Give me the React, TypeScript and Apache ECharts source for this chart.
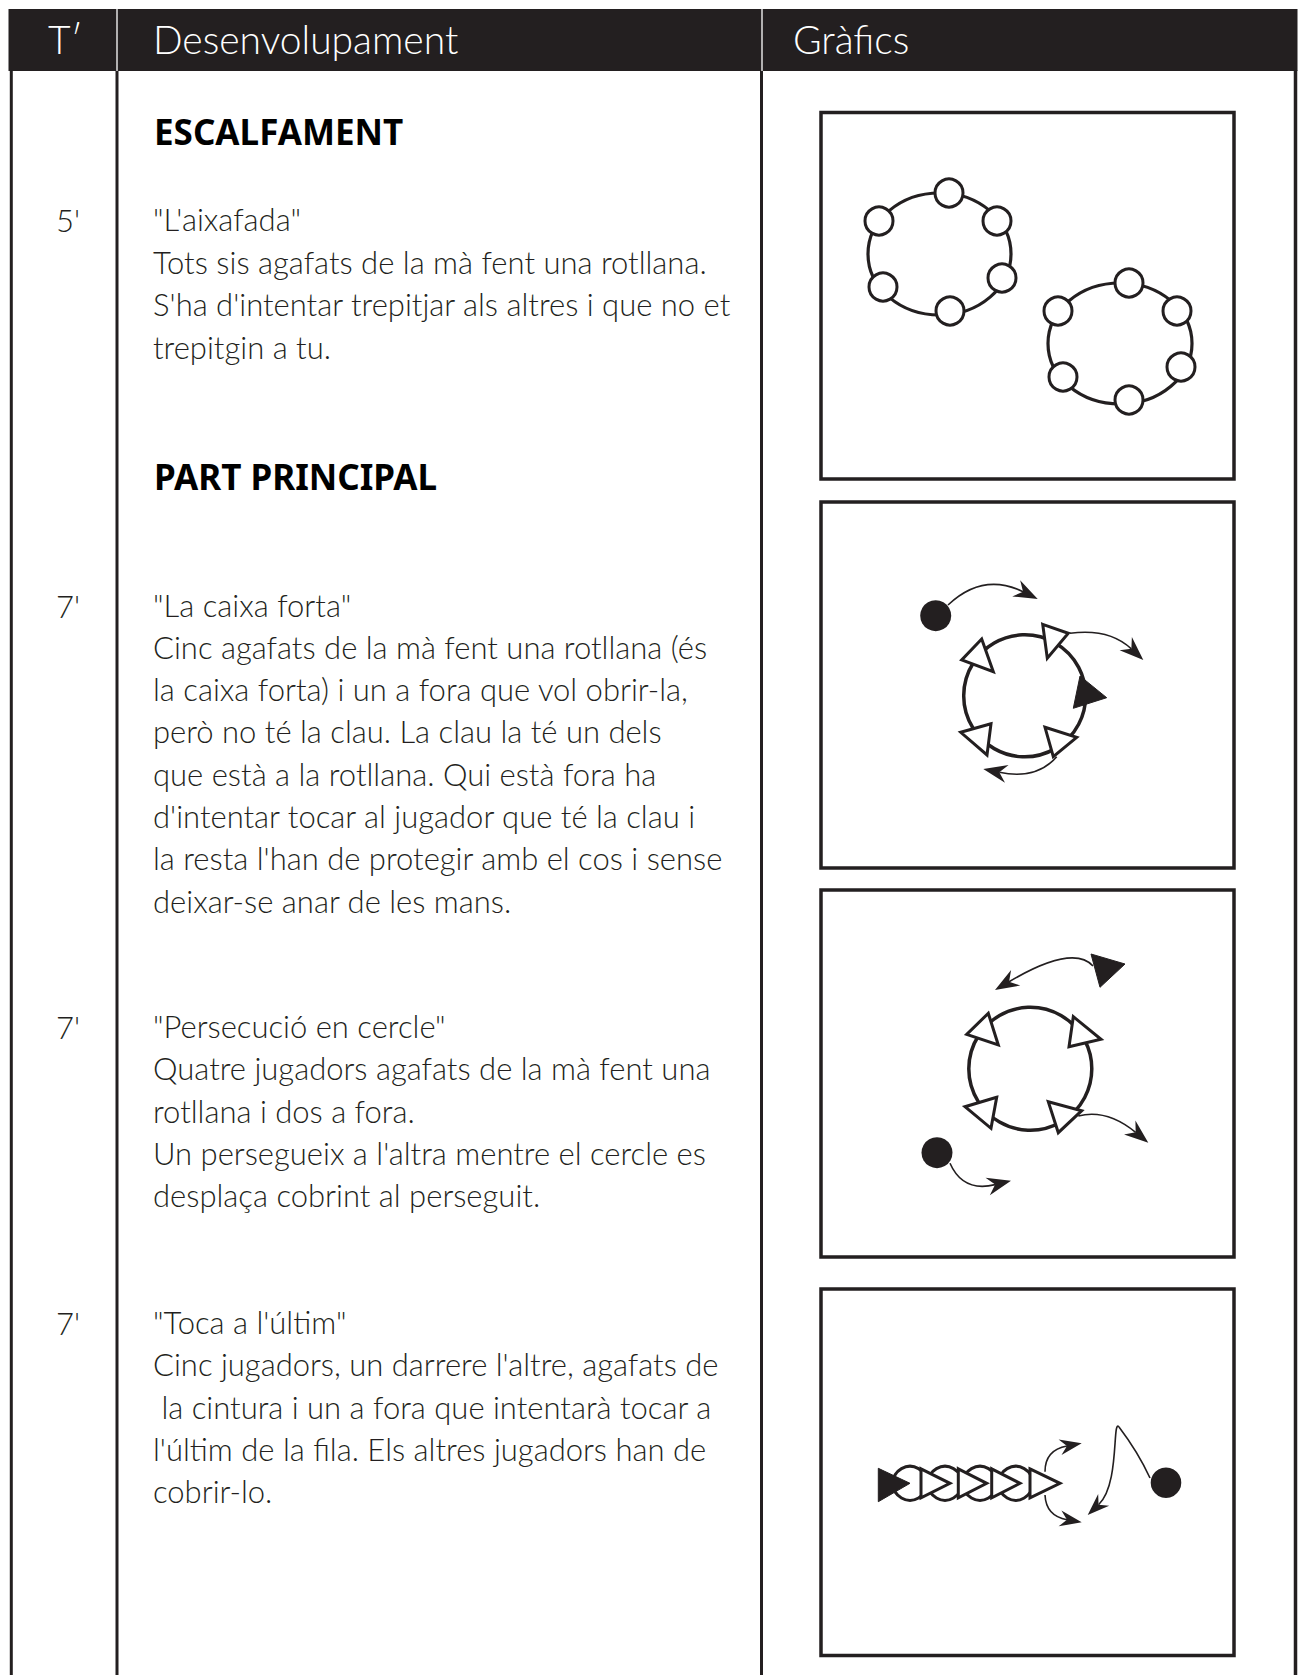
import React, { useEffect, useRef } from "react";
import * as echarts from "echarts";

// ---- content ----
const HEADER_LABELS = ["T\u2032", "Desenvolupament", "Gr\u00e0fics"];
const SECTION_HEADINGS = ["ESCALFAMENT", "PART PRINCIPAL"];
const TIMES = ["5'", "7'", "7'", "7'"];
const BLOCK1 = [
  "\"L'aixafada\"",
  "Tots sis agafats de la m\u00e0 fent una rotllana.",
  "S'ha d'intentar trepitjar als altres i que no et",
  "trepitgin a tu.",
];
const BLOCK2 = [
  "\"La caixa forta\"",
  "Cinc agafats de la m\u00e0 fent una rotllana (\u00e9s",
  "la caixa forta) i un a fora que vol obrir-la,",
  "per\u00f2 no t\u00e9 la clau. La clau la t\u00e9 un dels",
  "que est\u00e0 a la rotllana. Qui est\u00e0 fora ha",
  "d'intentar tocar al jugador que t\u00e9 la clau i",
  "la resta l'han de protegir amb el cos i sense",
  "deixar-se anar de les mans.",
];
const BLOCK3 = [
  "\"Persecuci\u00f3 en cercle\"",
  "Quatre jugadors agafats de la m\u00e0 fent una",
  "rotllana i dos a fora.",
  "Un persegueix a l'altra mentre el cercle es",
  "despla\u00e7a cobrint al perseguit.",
];
const BLOCK4 = [
  "\"Toca a l'\u00faltim\"",
  "Cinc jugadors, un darrere l'altre, agafats de",
  " la cintura i un a fora que intentar\u00e0 tocar a",
  "l'\u00faltim de la fila. Els altres jugadors han de",
  "cobrir-lo.",
];

// ---- diagram shapes ----
const RINGS_1 = [
  { c: [939.5, 254], r: [71.5, 61], players: [[949, 193], [879, 221], [997, 221], [1002, 278], [883, 287], [950, 311]] },
  { c: [1120, 343.5], r: [72, 60.5], players: [[1129, 283], [1058, 311], [1177, 311], [1181, 367], [1063, 377], [1129, 400]] },
];
const D2_CIRCLE = { c: [1024.7, 695.8], r: 61 };
const D2_OPEN_TRI = [
  [[1042.7, 624.3], [1068.3, 633.3], [1047.3, 658.3]],
  [[981.7, 639], [961.7, 660], [993.3, 671.7]],
  [[991, 723.7], [960.7, 732.3], [987, 755]],
  [[1045, 727.3], [1076.7, 737.3], [1053.3, 756.7]],
];
const D2_FILLED_TRI = [[1080, 676], [1106.7, 697.7], [1073.3, 708.3]];
const D2_DOT = { c: [935.7, 615.7], r: 15.5 };
const D2_ARROWS = [
  { p0: [948, 605], cp: [983, 572], tip: [1037.7, 599] },
  { p0: [1070, 633.3], cp: [1109, 628], tip: [1143.3, 660] },
  { p0: [1056.7, 756.7], cp: [1036.6, 780], tip: [983.3, 769] },
];

const D3_CIRCLE = { c: [1030.3, 1068.8], r: 61.5 };
const D3_OPEN_TRI = [
  [[988.3, 1013.3], [966.7, 1034.3], [998.3, 1045]],
  [[1073.3, 1016.7], [1101, 1039.3], [1069, 1046.7]],
  [[996.7, 1097.3], [965, 1106.7], [991, 1128.3]],
  [[1048.3, 1101.7], [1081.7, 1110.7], [1058.3, 1132.7]],
];
const D3_FILLED_TRI = [[1091, 954], [1125, 964], [1100, 987.3]];
const D3_DOT = { c: [937, 1152.7], r: 15.5 };
const D3_ARROWS = [
  { p0: [1093, 966], cp: [1073, 944], tip: [995, 990] },
  { p0: [1078.3, 1116], cp: [1106.7, 1108.7], tip: [1148.3, 1142.7] },
  { p0: [950, 1163.3], cp: [962.9, 1192.6], tip: [1011, 1180.7] },
];

const D4_FILLED_TRI = [[878.3, 1468.3], [910, 1483.3], [878.3, 1501.7]];
const D4_CIRCLES_X = [910, 945, 980, 1015.7];
const D4_TRI_LEFT_X = [921, 958.3, 991.7, 1030];
const D4_TRI_TIP_X = [950, 986.7, 1020, 1060];
const D4_ROW_Y = 1483.3;
const D4_DOT = { c: [1166, 1482.7], r: 15.3 };
const D4_ARROWS = [
  { p0: [1045, 1471.7], cp: [1045, 1450], tip: [1081.7, 1443.3] },
  { p0: [1045, 1495], cp: [1046, 1516], tip: [1081.7, 1522.3] },
];

const INK = "#231f20";
const BODY_FONT = "Lato, 'Open Sans', sans-serif";
const BODY_SIZE = 31;

function head(tip: number[], from: number[], L = 24, W = 9) {
  const dx = tip[0] - from[0];
  const dy = tip[1] - from[1];
  const n = Math.hypot(dx, dy) || 1;
  const ux = dx / n, uy = dy / n;
  const px = -uy, py = ux;
  const notch = [tip[0] - ux * L * 0.68, tip[1] - uy * L * 0.68];
  return {
    notch,
    el: {
      type: "polygon",
      shape: {
        points: [
          tip,
          [tip[0] - ux * L + px * W, tip[1] - uy * L + py * W],
          notch,
          [tip[0] - ux * L - px * W, tip[1] - uy * L - py * W],
        ],
      },
      style: { fill: INK },
    },
  };
}

function curveArrow(a: { p0: number[]; cp: number[]; tip: number[] }, L = 24, W = 9) {
  const h = head(a.tip, a.cp, L, W);
  return [
    {
      type: "bezierCurve",
      shape: { x1: a.p0[0], y1: a.p0[1], cpx1: a.cp[0], cpy1: a.cp[1], x2: h.notch[0], y2: h.notch[1] },
      style: { stroke: INK, lineWidth: 1.6, fill: null },
    },
    h.el,
  ];
}

function openTri(pts: number[][]) {
  return { type: "polygon", shape: { points: pts }, style: { fill: "#fff", stroke: INK, lineWidth: 3, lineJoin: "miter" } };
}
function filledTri(pts: number[][]) {
  return { type: "polygon", shape: { points: pts }, style: { fill: INK, stroke: INK, lineWidth: 1 } };
}
function dot(d: { c: number[]; r: number }) {
  return { type: "circle", shape: { cx: d.c[0], cy: d.c[1], r: d.r }, style: { fill: INK } };
}
function box(y1: number, y2: number) {
  return { type: "rect", shape: { x: 821, y: y1, width: 413, height: y2 - y1 }, style: { fill: "#fff", stroke: INK, lineWidth: 3.5 } };
}

function textLines(lines: string[], x: number, y0: number, step: number) {
  return lines.map((t, i) => ({
    type: "text",
    style: {
      text: t,
      x,
      y: y0 + i * step,
      fill: INK,
      fontFamily: BODY_FONT,
      fontWeight: 300,
      fontSize: BODY_SIZE,
      verticalAlign: "middle",
      textVerticalAlign: "middle",
    },
  }));
}

export default function App() {
  const ref = useRef<HTMLDivElement>(null);
  useEffect(() => {
    if (!ref.current) return;
    const chart = echarts.init(ref.current, null, { renderer: "svg" });
    const g: any[] = [];

    // page frame
    g.push({ type: "rect", shape: { x: 0, y: 0, width: 1303, height: 1675 }, style: { fill: "#fff" } });
    const vx = [11.3, 117, 761.5, 1295.5];
    const vw = [3, 3, 3, 3.5];
    vx.forEach((x, i) =>
      g.push({ type: "line", shape: { x1: x, y1: 70, x2: x, y2: 1675 }, style: { stroke: INK, lineWidth: vw[i] } })
    );
    // header
    g.push({ type: "rect", shape: { x: 8.5, y: 9, width: 1289, height: 62 }, style: { fill: INK } });
    [117, 762].forEach((x) =>
      g.push({ type: "line", shape: { x1: x, y1: 9, x2: x, y2: 71 }, style: { stroke: "#fff", lineWidth: 1.3 } })
    );
    const hx = [48, 153, 793];
    HEADER_LABELS.forEach((t, i) =>
      g.push({
        type: "text",
        style: { text: t, x: hx[i], y: 39, fill: "#fff", fontFamily: BODY_FONT, fontWeight: 300, fontSize: 39, verticalAlign: "middle", textVerticalAlign: "middle" },
      })
    );

    // section headings
    const hy = [131, 476];
    SECTION_HEADINGS.forEach((t, i) =>
      g.push({
        type: "text",
        style: { text: t, x: 154, y: hy[i], fill: "#000", fontFamily: "'Noto Sans', 'Open Sans', sans-serif", fontWeight: "bold", fontSize: 35, verticalAlign: "middle", textVerticalAlign: "middle" },
      })
    );

    // times
    const ty = [220, 605.5, 1027, 1323];
    TIMES.forEach((t, i) =>
      g.push({
        type: "text",
        style: { text: t, x: 56, y: ty[i], fill: INK, fontFamily: BODY_FONT, fontWeight: 300, fontSize: BODY_SIZE, verticalAlign: "middle", textVerticalAlign: "middle" },
      })
    );

    g.push(...textLines(BLOCK1, 153, 219, 42.7));
    g.push(...textLines(BLOCK2, 153, 604.5, 42.3));
    g.push(...textLines(BLOCK3, 153, 1026, 42.3));
    g.push(...textLines(BLOCK4, 153, 1322, 42.3));

    // boxes
    g.push(box(112.5, 479), box(502, 868), box(890, 1257), box(1289, 1655.5));

    // diagram 1
    RINGS_1.forEach((ring) => {
      g.push({ type: "ellipse", shape: { cx: ring.c[0], cy: ring.c[1], rx: ring.r[0], ry: ring.r[1] }, style: { fill: null, stroke: INK, lineWidth: 3.2 } });
      ring.players.forEach((p) =>
        g.push({ type: "circle", shape: { cx: p[0], cy: p[1], r: 14 }, style: { fill: "#fff", stroke: INK, lineWidth: 3 } })
      );
    });

    // diagram 2
    g.push({ type: "circle", shape: { cx: D2_CIRCLE.c[0], cy: D2_CIRCLE.c[1], r: D2_CIRCLE.r }, style: { fill: null, stroke: INK, lineWidth: 3.5 } });
    D2_OPEN_TRI.forEach((t) => g.push(openTri(t)));
    g.push(filledTri(D2_FILLED_TRI));
    g.push(dot(D2_DOT));
    D2_ARROWS.forEach((a) => g.push(...curveArrow(a)));

    // diagram 3
    g.push({ type: "circle", shape: { cx: D3_CIRCLE.c[0], cy: D3_CIRCLE.c[1], r: D3_CIRCLE.r }, style: { fill: null, stroke: INK, lineWidth: 3.5 } });
    D3_OPEN_TRI.forEach((t) => g.push(openTri(t)));
    g.push(filledTri(D3_FILLED_TRI));
    g.push(dot(D3_DOT));
    D3_ARROWS.forEach((a) => g.push(...curveArrow(a)));

    // diagram 4
    D4_CIRCLES_X.forEach((x) =>
      g.push({ type: "circle", shape: { cx: x, cy: D4_ROW_Y, r: 17 }, style: { fill: null, stroke: INK, lineWidth: 3 } })
    );
    D4_TRI_LEFT_X.forEach((x, i) =>
      g.push(openTri([[x, D4_ROW_Y - 14.5], [D4_TRI_TIP_X[i], D4_ROW_Y], [x, D4_ROW_Y + 14.5]]))
    );
    g.push(filledTri(D4_FILLED_TRI));
    g.push(dot(D4_DOT));
    D4_ARROWS.forEach((a) => g.push(...curveArrow(a, 22, 8)));
    // chaser's winding path
    g.push({
      type: "bezierCurve",
      shape: { x1: 1150, y1: 1478, cpx1: 1138, cpy1: 1452, x2: 1119, y2: 1427 },
      style: { stroke: INK, lineWidth: 1.6, fill: null },
    });
    const h4 = head([1087.7, 1515], [1112, 1492], 22, 8);
    g.push({
      type: "bezierCurve",
      shape: { x1: 1119, y1: 1427, cpx1: 1112, cpy1: 1418, cpx2: 1120, cpy2: 1485, x2: h4.notch[0], y2: h4.notch[1] },
      style: { stroke: INK, lineWidth: 1.6, fill: null },
    });
    g.push(h4.el);

    chart.setOption({ animation: false, graphic: { elements: g } });
    return () => chart.dispose();
  }, []);
  return <div ref={ref} style={{ position: "absolute", left: 0, top: 0, width: 1303, height: 1675 }} />;
}
